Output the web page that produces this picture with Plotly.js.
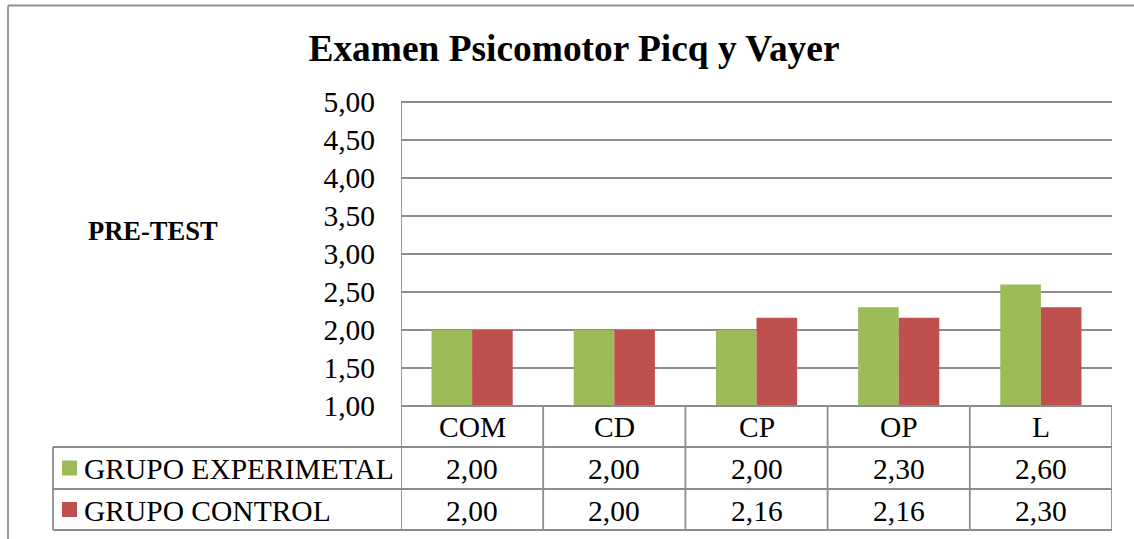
<!DOCTYPE html>
<html><head><meta charset="utf-8">
<script src="https://cdn.plot.ly/plotly-3.0.1.min.js"></script>
<style>html,body{margin:0;padding:0;background:#fff}</style>
</head><body><div id="chart" style="width:1134px;height:539px"></div>
<script>
// ---- data ----
const categories = ['COM', 'CD', 'CP', 'OP', 'L'];
const seriesNames = ['GRUPO EXPERIMETAL', 'GRUPO CONTROL'];
const experimental = [2.00, 2.00, 2.00, 2.30, 2.60];
const control = [2.00, 2.00, 2.16, 2.16, 2.30];
const chartTitle = 'Examen Psicomotor Picq y Vayer';
const sideLabel = 'PRE-TEST';

// ---- styling / layout (pixels) ----
const W = 1134, H = 539;
const L = 401, R = 1112, T = 102, B = 406;
const colors = ['#9BBB59', '#C0504D'];
const gridColor = '#8c8c8c';
const LW = 1.8;
const FONT = 'Liberation Serif, Times New Roman, serif';
const FS = 29.5;
const px2x = p => (p - L) / (R - L);
const py2y = p => (B - p) / (B - T);
const fmt = v => v.toFixed(2).replace('.', ',');

const rowEdges = [406, 447, 489, 530];
const legendLeft = 53;

const traces = [experimental, control].map((vals, i) => ({
  type: 'bar', x: categories, y: vals, name: seriesNames[i],
  marker: {color: colors[i], line: {width: 0}},
  hoverinfo: 'x+y+name', showlegend: false
}));

const shapes = [];
const annotations = [];
const line = (x0, y0, x1, y1, xref, w, c) => shapes.push({
  type: 'line', xref: xref || 'paper', yref: 'paper', x0, y0, x1, y1,
  line: {color: c || gridColor, width: w || LW}, layer: 'above'
});

// outer chart border (top and left visible)
line(px2x(8), py2y(5.5), px2x(W + 5), py2y(5.5), 'paper', 1.8, '#8f8f8f');
line(px2x(8), py2y(5.5), px2x(8), py2y(H + 5), 'paper', 1.8, '#8f8f8f');

// top of plot area (5,00 gridline)
line(0, 1, 1, 1);
// table horizontal lines
line(0, 0, 1, 0);
line(px2x(legendLeft), py2y(rowEdges[1]), 1, py2y(rowEdges[1]));
line(px2x(legendLeft), py2y(rowEdges[2]), 1, py2y(rowEdges[2]));
line(px2x(legendLeft), py2y(rowEdges[3]), 1, py2y(rowEdges[3]));
// table vertical lines at category boundaries (axis scale)
for (let i = 0; i <= categories.length; i++) {
  shapes.push({type: 'line', xref: 'x', yref: 'paper', x0: i - 0.5, x1: i - 0.5,
    y0: i === 0 ? 1 : py2y(rowEdges[0]), y1: py2y(rowEdges[3]),
    line: {color: gridColor, width: LW}, layer: 'above'});
}
line(px2x(legendLeft), py2y(rowEdges[1]), px2x(legendLeft), py2y(rowEdges[3]));

// header row labels
categories.forEach(c => annotations.push({
  xref: 'x', yref: 'paper', x: c, y: py2y((rowEdges[0] + rowEdges[1]) / 2),
  text: c, showarrow: false, xanchor: 'center', yanchor: 'middle',
  font: {family: FONT, size: FS, color: '#000'}
}));
// value rows
[experimental, control].forEach((vals, r) => {
  const yc = py2y((rowEdges[r + 1] + rowEdges[r + 2]) / 2 + 1);
  vals.forEach((v, i) => annotations.push({
    xref: 'x', yref: 'paper', x: categories[i], y: yc,
    text: fmt(v), showarrow: false, xanchor: 'center', yanchor: 'middle',
    font: {family: FONT, size: FS, color: '#000'}
  }));
  // legend key
  const ym = (rowEdges[r + 1] + rowEdges[r + 2]) / 2;
  shapes.push({type: 'rect', xref: 'paper', yref: 'paper',
    x0: px2x(62), x1: px2x(77), y0: py2y(ym - 7.5), y1: py2y(ym + 7.5),
    fillcolor: colors[r], line: {width: 0}, layer: 'above'});
  annotations.push({xref: 'paper', yref: 'paper', x: px2x(82), y: py2y(ym + 1),
    text: seriesNames[r], showarrow: false, xanchor: 'left', yanchor: 'middle',
    font: {family: FONT, size: FS, color: '#000'}});
});

// side label
annotations.push({xref: 'paper', yref: 'paper', x: px2x(153), y: py2y(231),
  text: '<b>' + sideLabel + '</b>', showarrow: false, xanchor: 'center', yanchor: 'middle',
  font: {family: FONT, size: 26.5, color: '#000'}});

const layout = {
  width: W, height: H,
  margin: {l: L, r: W - R, t: T, b: H - B, pad: 0},
  paper_bgcolor: '#fff', plot_bgcolor: '#fff',
  separators: ',.',
  title: {text: '<b>' + chartTitle + '</b>', x: 574 / W, xanchor: 'center',
    y: 1 - 48 / H, yanchor: 'middle', yref: 'container',
    font: {family: FONT, size: 37.4, color: '#000'}},
  barmode: 'group', bargap: 0.429, bargroupgap: 0,
  xaxis: {type: 'category', range: [-0.5, 4.5], showticklabels: false, ticks: '',
    showgrid: false, zeroline: false, showline: false, fixedrange: true},
  yaxis: {range: [1, 5], dtick: 0.5, tick0: 1, tickformat: '.2f',
    showgrid: true, gridcolor: gridColor, gridwidth: LW,
    showline: false, zeroline: false,
    ticks: 'outside', ticklen: 19, tickcolor: 'rgba(0,0,0,0)',
    tickfont: {family: FONT, size: FS, color: '#000'}, fixedrange: true},
  shapes, annotations
};

Plotly.newPlot('chart', traces, layout, {displayModeBar: false, staticPlot: true});
</script>
</body></html>
